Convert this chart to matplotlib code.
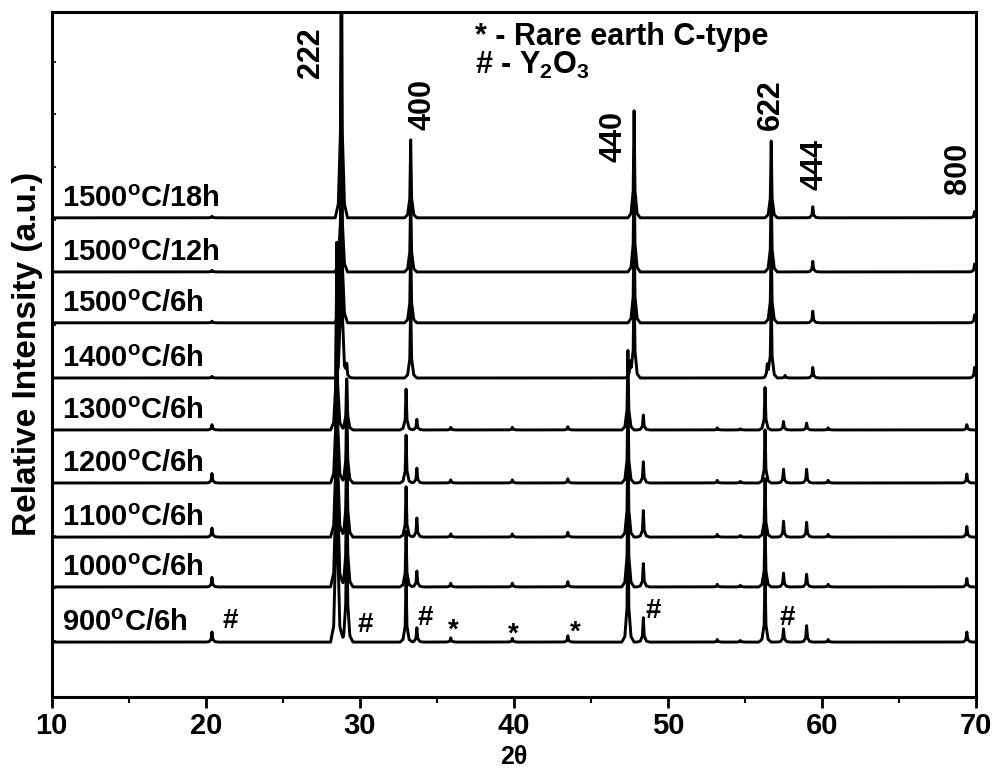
import numpy as np
import matplotlib
matplotlib.use("Agg")
import matplotlib.pyplot as plt

plt.rcParams['font.family'] = ['Liberation Sans', 'DejaVu Sans']
plt.rcParams['font.weight'] = 'bold'
plt.rcParams['mathtext.fontset'] = 'custom'
plt.rcParams['mathtext.rm'] = 'Liberation Sans:bold'
plt.rcParams['mathtext.it'] = 'Liberation Sans:bold'
plt.rcParams['mathtext.bf'] = 'Liberation Sans:bold'

# sample labels, bottom to top, and vertical offset of each pattern
sample_labels = ["900$^\\mathrm{o}$C/6h", "1000$^\\mathrm{o}$C/6h", "1100$^\\mathrm{o}$C/6h",
                 "1200$^\\mathrm{o}$C/6h", "1300$^\\mathrm{o}$C/6h", "1400$^\\mathrm{o}$C/6h",
                 "1500$^\\mathrm{o}$C/6h", "1500$^\\mathrm{o}$C/12h", "1500$^\\mathrm{o}$C/18h"]
offsets = [0.0, 1.04, 1.98, 3.0, 4.0, 4.98, 6.02, 6.98, 8.0]

# peak positions (2theta)
pos_low = [20.4, 28.5, 29.15, 33.0, 33.7, 35.9, 39.9, 43.5, 47.4, 48.4, 53.2, 54.7, 56.3, 57.5, 59.0, 60.4, 69.4]
pos_high = [20.4, 28.8, 29.15, 33.3, 47.55, 47.8, 56.45, 56.7, 57.6, 59.4, 69.9]

# peak heights (a.u.) per sample
h_900 = [0.19, 7.5, 3.0, 1.2, 0.27, 0.08, 0.07, 0.12, 2.6, 0.46, 0.05, 0.03, 1.3, 0.25, 0.31, 0.05, 0.19]
h_1000 = [0.18, 6.5, 2.6, 1.05, 0.30, 0.07, 0.07, 0.10, 2.3, 0.44, 0.05, 0.03, 1.2, 0.26, 0.24, 0.05, 0.16]
h_1100 = [0.17, 5.5, 2.2, 0.95, 0.36, 0.06, 0.06, 0.09, 2.0, 0.50, 0.05, 0.03, 1.1, 0.30, 0.28, 0.05, 0.20]
h_1200 = [0.18, 4.5, 1.8, 0.90, 0.28, 0.06, 0.06, 0.08, 1.7, 0.40, 0.05, 0.03, 1.0, 0.26, 0.26, 0.05, 0.17]
h_1300 = [0.10, 3.5, 1.1, 0.77, 0.20, 0.05, 0.05, 0.06, 1.5, 0.28, 0.04, 0.02, 0.8, 0.16, 0.13, 0.04, 0.10]
h_1400 = [0.03, 5.0, 0.25, 1.45, 0.3, 2.0, 0.25, 1.6, 0.05, 0.20, 0.20]
h_1500_6 = [0.03, 4.5, 0.0, 1.5, 0.0, 2.0, 0.0, 1.6, 0.0, 0.22, 0.15]
h_1500_12 = [0.03, 3.85, 0.0, 1.5, 0.0, 2.1, 0.0, 1.7, 0.0, 0.20, 0.15]
h_1500_18 = [0.03, 6.5, 0.0, 1.47, 0.0, 2.02, 0.0, 1.45, 0.0, 0.21, 0.12]

# hkl labels of the main phase
hkl = ["222", "400", "440", "622", "444", "800"]
hkl_x = [26.83, 34.04, 46.45, 56.69, 59.48, 68.83]
hkl_y = [11.11, 10.13, 9.53, 10.13, 9.0, 8.94]

# phase markers on the 900 C pattern
mark_txt = ["#", "#", "#", "*", "*", "*", "#", "#"]
mark_x = [21.57, 30.33, 34.23, 36.05, 39.94, 43.97, 49.03, 57.73]
mark_y = [0.26, 0.19, 0.32, 0.08, 0.0, 0.04, 0.45, 0.32]

patterns = [(pos_low, h_900), (pos_low, h_1000), (pos_low, h_1100), (pos_low, h_1200),
            (pos_low, h_1300), (pos_high, h_1400), (pos_high, h_1500_6),
            (pos_high, h_1500_12), (pos_high, h_1500_18)]

# peak outline: sharp top, small foot
shape_dx = [-0.4, -0.2, -0.06, 0, 0.06, 0.2, 0.4]
shape_rel = [0, 0.04, 0.25, 1, 0.25, 0.04, 0]

fig = plt.figure(figsize=(9.95, 7.69), dpi=100)
ax = fig.add_axes([0.052, 0.094, 0.929, 0.891])

tt = np.linspace(10, 70, 3001)
for (pos, hs), off, lab in zip(patterns, offsets, sample_labels):
    y = np.zeros_like(tt)
    for p, h in zip(pos, hs):
        y += np.interp(tt, np.array(shape_dx) + p, np.array(shape_rel) * h)
    ax.plot(tt, y + off, color="black", lw=2.1)
    ax.text(10.67, off + 0.21, lab, fontsize=21, fontweight="bold", ha="left", va="baseline")

for t, x, y in zip(hkl, hkl_x, hkl_y):
    ax.text(x, y, t, rotation=90, fontsize=22, fontweight="bold", ha="center", va="center")

for t, x, y in zip(mark_txt, mark_x, mark_y):
    ax.text(x, y, t, fontsize=20, fontweight="bold", ha="center", va="baseline")

ax.text(37.5, 11.26, "* - Rare earth C-type", fontsize=22, fontweight="bold", ha="left", va="baseline")
ax.text(37.5, 10.72, "# - Y$_2$O$_3$", fontsize=22, fontweight="bold", ha="left", va="baseline")

ax.set_xlim(10, 70)
ax.set_ylim(-1.03, 11.89)
ax.set_xticks([10, 20, 30, 40, 50, 60, 70])
ax.set_xticks([15, 25, 35, 45, 55, 65], minor=True)
ax.set_yticks(np.arange(12) * 0.993 + 0.02)
ax.set_yticklabels([])
ax.tick_params(axis="x", which="major", direction="out", length=8, width=2, labelsize=21, pad=3)
ax.tick_params(axis="x", which="minor", direction="out", length=4, width=1.5)
ax.tick_params(axis="y", direction="in", length=3, width=1.2)
for lbl in ax.get_xticklabels():
    lbl.set_fontweight("bold")
for s in ax.spines.values():
    s.set_linewidth(2.2)

ax.set_xlabel("2θ", fontsize=18, fontweight="bold")
ax.xaxis.set_label_coords(0.5, -0.0705)
ax.set_ylabel("Relative Intensity (a.u.)", fontsize=24, fontweight="bold", labelpad=3)

plt.savefig("out.png", dpi=100)
